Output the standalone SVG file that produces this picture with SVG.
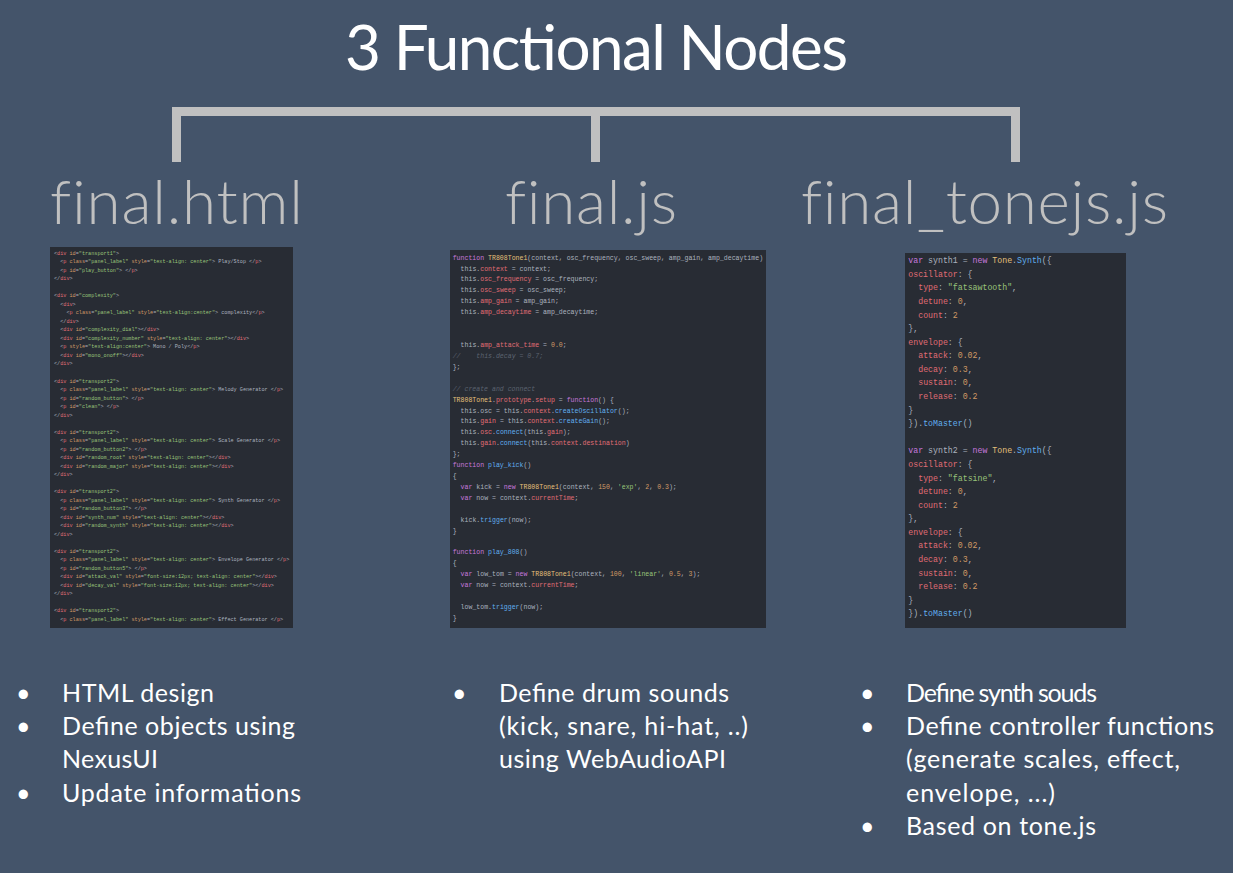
<svg xmlns="http://www.w3.org/2000/svg" width="1233" height="873" viewBox="0 0 1233 873">
<style>
.title{font-family:Lato,"Open Sans","Liberation Sans",sans-serif;font-size:62px;fill:#FFFFFF;}
.head{font-family:Lato,"Open Sans","Liberation Sans",sans-serif;font-weight:300;font-size:62px;fill:#C0C0C0;font-variant-ligatures:none;}
.bul{font-family:Lato,"Open Sans","Liberation Sans",sans-serif;font-size:25px;fill:#FFFFFF;}
.code{font-family:"Liberation Mono","DejaVu Sans Mono",monospace;fill:#ABB2BF;}
.c1{font-size:5.17px;}
.c2{font-size:6.55px;}
.c3{font-size:8.24px;}
.panel{fill:#282C34;}
.bar{fill:#C0C0C0;}
.r{fill:#E06C75;}
.o{fill:#D19A66;}
.g{fill:#98C379;}
.p{fill:#C678DD;}
.b{fill:#61AFEF;}
.y{fill:#E5C07B;}
.cm{fill:#5C6370;font-style:italic;}
</style>
<rect x="0" y="0" width="1233" height="873" fill="#44546A"/>
<g id="title"><text class="title" x="345" y="70" textLength="503">3 Functional Nodes</text></g>
<g id="connectors">
<rect class="bar" x="172" y="107" width="848" height="9"/>
<rect class="bar" x="172" y="107" width="9" height="55"/>
<rect class="bar" x="591" y="107" width="9" height="55"/>
<rect class="bar" x="1011" y="107" width="9" height="55"/>
</g>
<g id="node-html">
<text class="head" x="50" y="224" textLength="253">final.html</text>
<rect class="panel" x="50" y="247" width="243" height="381"/>
<g class="code c1">
<text x="54" y="254.8">&lt;<tspan class="r">div</tspan> <tspan class="o">id</tspan>=<tspan class="g">"transport1"</tspan>&gt;</text>
<text x="60.2" y="263.3">&lt;<tspan class="r">p</tspan> <tspan class="o">class</tspan>=<tspan class="g">"panel_label"</tspan> <tspan class="o">style</tspan>=<tspan class="g">"text-align: center"</tspan>&gt; Play/Stop &lt;/<tspan class="r">p</tspan>&gt;</text>
<text x="60.2" y="271.8">&lt;<tspan class="r">p</tspan> <tspan class="o">id</tspan>=<tspan class="g">"play_button"</tspan>&gt; &lt;/<tspan class="r">p</tspan>&gt;</text>
<text x="54" y="280.3">&lt;/<tspan class="r">div</tspan>&gt;</text>
<text x="54" y="297.4">&lt;<tspan class="r">div</tspan> <tspan class="o">id</tspan>=<tspan class="g">"complexity"</tspan>&gt;</text>
<text x="60.2" y="305.9">&lt;<tspan class="r">div</tspan>&gt;</text>
<text x="66.4" y="314.4">&lt;<tspan class="r">p</tspan> <tspan class="o">class</tspan>=<tspan class="g">"panel_label"</tspan> <tspan class="o">style</tspan>=<tspan class="g">"text-align:center"</tspan>&gt; complexity&lt;/<tspan class="r">p</tspan>&gt;</text>
<text x="60.2" y="322.9">&lt;/<tspan class="r">div</tspan>&gt;</text>
<text x="60.2" y="331.4">&lt;<tspan class="r">div</tspan> <tspan class="o">id</tspan>=<tspan class="g">"complexity_dial"</tspan>&gt;&lt;/<tspan class="r">div</tspan>&gt;</text>
<text x="60.2" y="339.9">&lt;<tspan class="r">div</tspan> <tspan class="o">id</tspan>=<tspan class="g">"complexity_number"</tspan> <tspan class="o">style</tspan>=<tspan class="g">"text-align: center"</tspan>&gt;&lt;/<tspan class="r">div</tspan>&gt;</text>
<text x="60.2" y="348.4">&lt;<tspan class="r">p</tspan> <tspan class="o">style</tspan>=<tspan class="g">"text-align:center"</tspan>&gt; Mono / Poly&lt;/<tspan class="r">p</tspan>&gt;</text>
<text x="60.2" y="356.9">&lt;<tspan class="r">div</tspan> <tspan class="o">id</tspan>=<tspan class="g">"mono_onoff"</tspan>&gt;&lt;/<tspan class="r">div</tspan>&gt;</text>
<text x="54" y="365.4">&lt;/<tspan class="r">div</tspan>&gt;</text>
<text x="54" y="382.5">&lt;<tspan class="r">div</tspan> <tspan class="o">id</tspan>=<tspan class="g">"transport2"</tspan>&gt;</text>
<text x="60.2" y="391.0">&lt;<tspan class="r">p</tspan> <tspan class="o">class</tspan>=<tspan class="g">"panel_label"</tspan> <tspan class="o">style</tspan>=<tspan class="g">"text-align: center"</tspan>&gt; Melody Generator &lt;/<tspan class="r">p</tspan>&gt;</text>
<text x="60.2" y="399.5">&lt;<tspan class="r">p</tspan> <tspan class="o">id</tspan>=<tspan class="g">"random_button"</tspan>&gt; &lt;/<tspan class="r">p</tspan>&gt;</text>
<text x="60.2" y="408.0">&lt;<tspan class="r">p</tspan> <tspan class="o">id</tspan>=<tspan class="g">"clean"</tspan>&gt; &lt;/<tspan class="r">p</tspan>&gt;</text>
<text x="54" y="416.5">&lt;/<tspan class="r">div</tspan>&gt;</text>
<text x="54" y="433.6">&lt;<tspan class="r">div</tspan> <tspan class="o">id</tspan>=<tspan class="g">"transport2"</tspan>&gt;</text>
<text x="60.2" y="442.1">&lt;<tspan class="r">p</tspan> <tspan class="o">class</tspan>=<tspan class="g">"panel_label"</tspan> <tspan class="o">style</tspan>=<tspan class="g">"text-align: center"</tspan>&gt; Scale Generator &lt;/<tspan class="r">p</tspan>&gt;</text>
<text x="60.2" y="450.6">&lt;<tspan class="r">p</tspan> <tspan class="o">id</tspan>=<tspan class="g">"random_button2"</tspan>&gt; &lt;/<tspan class="r">p</tspan>&gt;</text>
<text x="60.2" y="459.1">&lt;<tspan class="r">div</tspan> <tspan class="o">id</tspan>=<tspan class="g">"random_root"</tspan> <tspan class="o">style</tspan>=<tspan class="g">"text-align: center"</tspan>&gt;&lt;/<tspan class="r">div</tspan>&gt;</text>
<text x="60.2" y="467.6">&lt;<tspan class="r">div</tspan> <tspan class="o">id</tspan>=<tspan class="g">"random_major"</tspan> <tspan class="o">style</tspan>=<tspan class="g">"text-align: center"</tspan>&gt;&lt;/<tspan class="r">div</tspan>&gt;</text>
<text x="54" y="476.1">&lt;/<tspan class="r">div</tspan>&gt;</text>
<text x="54" y="493.1">&lt;<tspan class="r">div</tspan> <tspan class="o">id</tspan>=<tspan class="g">"transport2"</tspan>&gt;</text>
<text x="60.2" y="501.6">&lt;<tspan class="r">p</tspan> <tspan class="o">class</tspan>=<tspan class="g">"panel_label"</tspan> <tspan class="o">style</tspan>=<tspan class="g">"text-align: center"</tspan>&gt; Synth Generator &lt;/<tspan class="r">p</tspan>&gt;</text>
<text x="60.2" y="510.1">&lt;<tspan class="r">p</tspan> <tspan class="o">id</tspan>=<tspan class="g">"random_button3"</tspan>&gt; &lt;/<tspan class="r">p</tspan>&gt;</text>
<text x="60.2" y="518.6">&lt;<tspan class="r">div</tspan> <tspan class="o">id</tspan>=<tspan class="g">"synth_num"</tspan> <tspan class="o">style</tspan>=<tspan class="g">"text-align: center"</tspan>&gt;&lt;/<tspan class="r">div</tspan>&gt;</text>
<text x="60.2" y="527.1">&lt;<tspan class="r">div</tspan> <tspan class="o">id</tspan>=<tspan class="g">"random_synth"</tspan> <tspan class="o">style</tspan>=<tspan class="g">"text-align: center"</tspan>&gt;&lt;/<tspan class="r">div</tspan>&gt;</text>
<text x="54" y="535.6">&lt;/<tspan class="r">div</tspan>&gt;</text>
<text x="54" y="552.7">&lt;<tspan class="r">div</tspan> <tspan class="o">id</tspan>=<tspan class="g">"transport2"</tspan>&gt;</text>
<text x="60.2" y="561.2">&lt;<tspan class="r">p</tspan> <tspan class="o">class</tspan>=<tspan class="g">"panel_label"</tspan> <tspan class="o">style</tspan>=<tspan class="g">"text-align: center"</tspan>&gt; Envelope Generator &lt;/<tspan class="r">p</tspan>&gt;</text>
<text x="60.2" y="569.7">&lt;<tspan class="r">p</tspan> <tspan class="o">id</tspan>=<tspan class="g">"random_button5"</tspan>&gt; &lt;/<tspan class="r">p</tspan>&gt;</text>
<text x="60.2" y="578.2">&lt;<tspan class="r">div</tspan> <tspan class="o">id</tspan>=<tspan class="g">"attack_val"</tspan> <tspan class="o">style</tspan>=<tspan class="g">"font-size:12px; text-align: center"</tspan>&gt;&lt;/<tspan class="r">div</tspan>&gt;</text>
<text x="60.2" y="586.7">&lt;<tspan class="r">div</tspan> <tspan class="o">id</tspan>=<tspan class="g">"decay_val"</tspan> <tspan class="o">style</tspan>=<tspan class="g">"font-size:12px; text-align: center"</tspan>&gt;&lt;/<tspan class="r">div</tspan>&gt;</text>
<text x="54" y="595.2">&lt;/<tspan class="r">div</tspan>&gt;</text>
<text x="54" y="612.2">&lt;<tspan class="r">div</tspan> <tspan class="o">id</tspan>=<tspan class="g">"transport2"</tspan>&gt;</text>
<text x="60.2" y="620.7">&lt;<tspan class="r">p</tspan> <tspan class="o">class</tspan>=<tspan class="g">"panel_label"</tspan> <tspan class="o">style</tspan>=<tspan class="g">"text-align: center"</tspan>&gt; Effect Generator &lt;/<tspan class="r">p</tspan>&gt;</text>
</g>
</g>
<g id="node-js">
<text class="head" x="505" y="224" textLength="172">final.js</text>
<rect class="panel" x="450" y="250" width="316" height="378"/>
<g class="code c2">
<text x="452.7" y="259.6"><tspan class="p">function</tspan> <tspan class="y">TR808Tone1</tspan>(context, osc_frequency, osc_sweep, amp_gain, amp_decaytime)</text>
<text x="460.6" y="270.5">this.<tspan class="r">context</tspan> = context;</text>
<text x="460.6" y="281.4">this.<tspan class="r">osc_frequency</tspan> = osc_frequency;</text>
<text x="460.6" y="292.4">this.<tspan class="r">osc_sweep</tspan> = osc_sweep;</text>
<text x="460.6" y="303.3">this.<tspan class="r">amp_gain</tspan> = amp_gain;</text>
<text x="460.6" y="314.2">this.<tspan class="r">amp_decaytime</tspan> = amp_decaytime;</text>
<text x="460.6" y="346.9">this.<tspan class="r">amp_attack_time</tspan> = <tspan class="o">0.0</tspan>;</text>
<text x="452.7" y="357.9" class="cm">//<tspan x="476.3">this.decay = 0.7;</tspan></text>
<text x="452.7" y="368.8">};</text>
<text x="452.7" y="390.6" class="cm">// create and connect</text>
<text x="452.7" y="401.6"><tspan class="y">TR808Tone1</tspan>.<tspan class="r">prototype</tspan>.<tspan class="r">setup</tspan> = <tspan class="p">function</tspan>() {</text>
<text x="460.6" y="412.5">this.osc = this.<tspan class="r">context</tspan>.<tspan class="b">createOscillator</tspan>();</text>
<text x="460.6" y="423.4">this.<tspan class="r">gain</tspan> = this.<tspan class="r">context</tspan>.<tspan class="b">createGain</tspan>();</text>
<text x="460.6" y="434.3">this.<tspan class="r">osc</tspan>.<tspan class="b">connect</tspan>(this.<tspan class="r">gain</tspan>);</text>
<text x="460.6" y="445.2">this.<tspan class="r">gain</tspan>.<tspan class="b">connect</tspan>(this.<tspan class="r">context</tspan>.<tspan class="r">destination</tspan>)</text>
<text x="452.7" y="456.2">};</text>
<text x="452.7" y="467.1"><tspan class="p">function</tspan> <tspan class="b">play_kick</tspan>()</text>
<text x="452.7" y="478.0">{</text>
<text x="460.6" y="488.9"><tspan class="p">var</tspan> kick = <tspan class="p">new</tspan> <tspan class="y">TR808Tone1</tspan>(context, <tspan class="o">150</tspan>, <tspan class="g">'exp'</tspan>, <tspan class="o">2</tspan>, <tspan class="o">0.3</tspan>);</text>
<text x="460.6" y="499.8"><tspan class="p">var</tspan> now = context.<tspan class="r">currentTime</tspan>;</text>
<text x="460.6" y="521.7">kick.<tspan class="b">trigger</tspan>(now);</text>
<text x="452.7" y="532.6">}</text>
<text x="452.7" y="554.4"><tspan class="p">function</tspan> <tspan class="b">play_808</tspan>()</text>
<text x="452.7" y="565.3">{</text>
<text x="460.6" y="576.3"><tspan class="p">var</tspan> low_tom = <tspan class="p">new</tspan> <tspan class="y">TR808Tone1</tspan>(context, <tspan class="o">100</tspan>, <tspan class="g">'linear'</tspan>, <tspan class="o">0.5</tspan>, <tspan class="o">3</tspan>);</text>
<text x="460.6" y="587.2"><tspan class="p">var</tspan> now = context.<tspan class="r">currentTime</tspan>;</text>
<text x="460.6" y="609.0">low_tom.<tspan class="b">trigger</tspan>(now);</text>
<text x="452.7" y="620.0">}</text>
</g>
</g>
<g id="node-tonejs">
<text class="head" x="801" y="224" textLength="367">final_tonejs.js</text>
<rect class="panel" x="905" y="253" width="221" height="375"/>
<g class="code c3">
<text x="908.3" y="263.2"><tspan class="p">var</tspan> synth1 = <tspan class="p">new</tspan> <tspan class="y">Tone</tspan>.<tspan class="b">Synth</tspan>({</text>
<text x="908.3" y="276.8"><tspan class="r">oscillator</tspan>: {</text>
<text x="918.2" y="290.4"><tspan class="r">type</tspan>: <tspan class="g">"fatsawtooth"</tspan>,</text>
<text x="918.2" y="303.9"><tspan class="r">detune</tspan>: <tspan class="o">0</tspan>,</text>
<text x="918.2" y="317.5"><tspan class="r">count</tspan>: <tspan class="o">2</tspan></text>
<text x="908.3" y="331.1">},</text>
<text x="908.3" y="344.7"><tspan class="r">envelope</tspan>: {</text>
<text x="918.2" y="358.3"><tspan class="r">attack</tspan>: <tspan class="o">0.02</tspan>,</text>
<text x="918.2" y="371.8"><tspan class="r">decay</tspan>: <tspan class="o">0.3</tspan>,</text>
<text x="918.2" y="385.4"><tspan class="r">sustain</tspan>: <tspan class="o">0</tspan>,</text>
<text x="918.2" y="399.0"><tspan class="r">release</tspan>: <tspan class="o">0.2</tspan></text>
<text x="908.3" y="412.6">}</text>
<text x="908.3" y="426.2">}).<tspan class="b">toMaster</tspan>()</text>
<text x="908.3" y="453.3"><tspan class="p">var</tspan> synth2 = <tspan class="p">new</tspan> <tspan class="y">Tone</tspan>.<tspan class="b">Synth</tspan>({</text>
<text x="908.3" y="466.9"><tspan class="r">oscillator</tspan>: {</text>
<text x="918.2" y="480.5"><tspan class="r">type</tspan>: <tspan class="g">"fatsine"</tspan>,</text>
<text x="918.2" y="494.1"><tspan class="r">detune</tspan>: <tspan class="o">0</tspan>,</text>
<text x="918.2" y="507.6"><tspan class="r">count</tspan>: <tspan class="o">2</tspan></text>
<text x="908.3" y="521.2">},</text>
<text x="908.3" y="534.8"><tspan class="r">envelope</tspan>: {</text>
<text x="918.2" y="548.4"><tspan class="r">attack</tspan>: <tspan class="o">0.02</tspan>,</text>
<text x="918.2" y="562.0"><tspan class="r">decay</tspan>: <tspan class="o">0.3</tspan>,</text>
<text x="918.2" y="575.5"><tspan class="r">sustain</tspan>: <tspan class="o">0</tspan>,</text>
<text x="918.2" y="589.1"><tspan class="r">release</tspan>: <tspan class="o">0.2</tspan></text>
<text x="908.3" y="602.7">}</text>
<text x="908.3" y="616.3">}).<tspan class="b">toMaster</tspan>()</text>
</g>
</g>
<g id="bullets-html">
<text class="bul" x="16" y="702">•</text>
<text class="bul" x="62" y="702" textLength="152">HTML design</text>
<text class="bul" x="16" y="735">•</text>
<text class="bul" x="62" y="735" textLength="233">Define objects using</text>
<text class="bul" x="62" y="768" textLength="96">NexusUI</text>
<text class="bul" x="16" y="802">•</text>
<text class="bul" x="62" y="802" textLength="239">Update informations</text>
</g>
<g id="bullets-js">
<text class="bul" x="452" y="702">•</text>
<text class="bul" x="499" y="702" textLength="230">Define drum sounds</text>
<text class="bul" x="499" y="735" textLength="249">(kick, snare, hi-hat, ..)</text>
<text class="bul" x="499" y="768" textLength="227">using WebAudioAPI</text>
</g>
<g id="bullets-tonejs">
<text class="bul" x="860" y="702">•</text>
<text class="bul" x="906" y="702" textLength="191">Define synth souds</text>
<text class="bul" x="860" y="735">•</text>
<text class="bul" x="906" y="735" textLength="308">Define controller functions</text>
<text class="bul" x="906" y="768" textLength="274">(generate scales, effect,</text>
<text class="bul" x="906" y="802" textLength="149">envelope, ...)</text>
<text class="bul" x="860" y="835">•</text>
<text class="bul" x="906" y="835" textLength="190">Based on tone.js</text>
</g>
</svg>
